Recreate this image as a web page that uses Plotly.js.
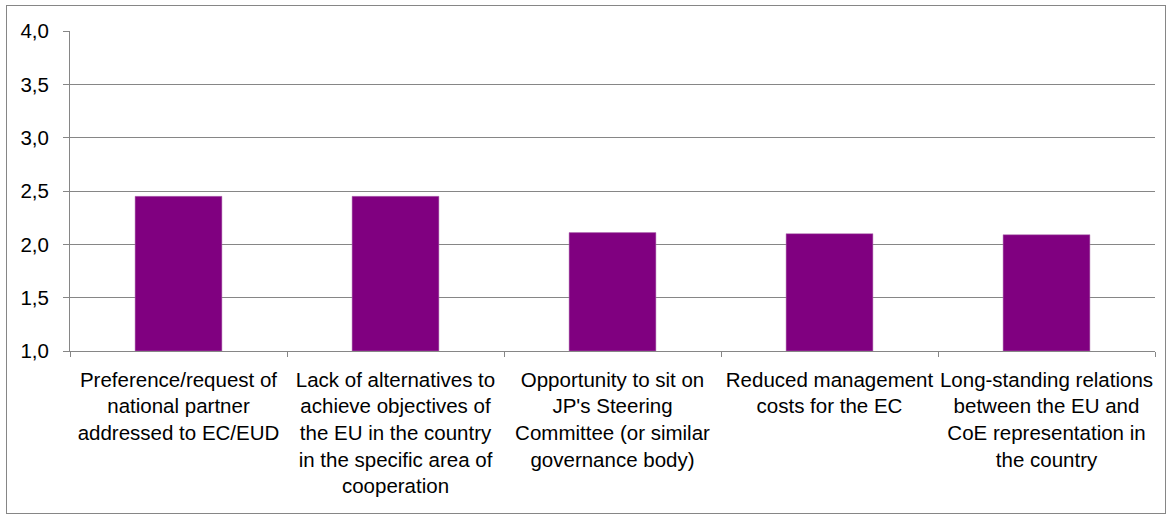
<!DOCTYPE html>
<html>
<head>
<meta charset="utf-8">
<script src="https://cdn.plot.ly/plotly-3.0.1.min.js"></script>
<style>
  html, body { margin: 0; padding: 0; background: #fff; }
  #wrap { position: relative; width: 1170px; height: 515px; }
  #chart { width: 1170px; height: 515px; }
  #frame { position: absolute; left: 6px; top: 5px; width: 1158px; height: 507px;
           border: 1px solid #868686; pointer-events: none; }
</style>
</head>
<body>
<div id="wrap">
  <div id="chart"></div>
  <div id="frame"></div>
</div>
<script>
const categories = [
  "Preference/request of national partner addressed to EC/EUD",
  "Lack of alternatives to achieve objectives of the EU in the country in the specific area of cooperation",
  "Opportunity to sit on JP's Steering Committee (or similar governance body)",
  "Reduced management costs for the EC",
  "Long-standing relations between the EU and CoE representation in the country"
];
const tickLabels = [
  "Preference/request of<br>national partner<br>addressed to EC/EUD",
  "Lack of alternatives to<br>achieve objectives of<br>the EU in the country<br>in the specific area of<br>cooperation",
  "Opportunity to sit on<br>JP's Steering<br>Committee (or similar<br>governance body)",
  "Reduced management<br>costs for the EC",
  "Long-standing relations<br>between the EU and<br>CoE representation in<br>the country"
];
const values = [2.45, 2.45, 2.11, 2.10, 2.09];
const yTicks = [1.0, 1.5, 2.0, 2.5, 3.0, 3.5, 4.0];
const yTickLabels = ["1,0", "1,5", "2,0", "2,5", "3,0", "3,5", "4,0"];

const axisBase = 1;
const trace = {
  type: 'bar',
  x: categories,
  y: values.map(v => v - axisBase),
  base: axisBase,
  marker: { color: '#800080', line: { color: '#b070b0', width: 0.5 } },
  hoverinfo: 'x+y'
};

const layout = {
  width: 1170, height: 515,
  margin: { l: 70, r: 15, t: 31, b: 164 },
  paper_bgcolor: '#ffffff', plot_bgcolor: '#ffffff',
  separators: ',.',
  showlegend: false,
  bargap: 0.6,
  font: { family: 'Liberation Sans, Arial, sans-serif', size: 20, color: '#000' },
  xaxis: {
    type: 'category',
    tickmode: 'array',
    tickvals: categories,
    ticktext: tickLabels,
    tickson: 'boundaries',
    ticks: 'outside', ticklen: 5, tickcolor: '#868686',
    showline: true, linecolor: '#868686', linewidth: 1,
    showgrid: false,
    tickangle: 0,
    tickfont: { size: 20.5 },
    ticklabelstandoff: 10
  },
  yaxis: {
    range: [1, 4],
    tickmode: 'array',
    tickvals: yTicks,
    ticktext: yTickLabels,
    ticks: 'outside', ticklen: 6, tickcolor: '#868686',
    showline: true, linecolor: '#868686', linewidth: 1,
    showgrid: true, gridcolor: '#868686', gridwidth: 1,
    zeroline: false,
    tickfont: { size: 20.5 },
    ticklabelstandoff: 10
  }
};

Plotly.newPlot('chart', [trace], layout, { displayModeBar: false, staticPlot: true });
</script>
</body>
</html>
